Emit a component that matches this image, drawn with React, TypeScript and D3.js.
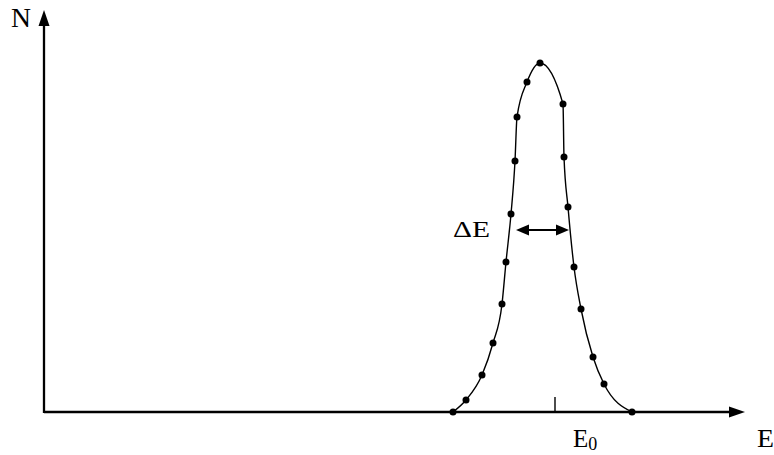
import * as d3 from 'd3';
import React from 'react';

// energy (arbitrary units) and counts
const energy = [409, 422, 438, 449, 458, 462, 467, 471, 473, 483, 496, 519, 520, 524, 530, 537, 549, 560, 588];
const counts = [0, 12, 37, 69, 108, 150, 198, 251, 295, 330, 349, 308, 255, 205, 145, 103, 55, 28, 0];
const peakE = 511;
const fwhm = [472, 525];
const fwhmLevel = 182;

const App = () => {
  const width = 774;
  const height = 455;
  const font = '"Liberation Serif", "DejaVu Serif", serif';

  const x = d3.scaleLinear().domain([0, 700]).range([44, 744]);
  const y = d3.scaleLinear().domain([0, 350]).range([412, 62]);

  const points = energy.map((e, i) => ({ e, n: counts[i] }));
  const line = d3
    .line<{ e: number; n: number }>()
    .x(d => x(d.e))
    .y(d => y(d.n))
    .curve(d3.curveMonotoneX);

  const x0 = x(0);
  const y0 = y(0);
  const xEnd = 745;
  const yTop = 10;

  return (
    <svg width={width} height={height} style={{ position: 'absolute', left: 0, top: 0, background: '#fff' }}>
      {/* axes */}
      <line x1={x0} y1={y0} x2={xEnd - 12} y2={y0} stroke="#000" strokeWidth={2.3} />
      <path d={`M${xEnd},${y0} L${xEnd - 16},${y0 - 5.5} L${xEnd - 16},${y0 + 5.5} Z`} fill="#000" />
      <line x1={x0} y1={y0 + 1} x2={x0} y2={yTop + 12} stroke="#000" strokeWidth={2.3} />
      <path d={`M${x0},${yTop} L${x0 - 5.5},${yTop + 16} L${x0 + 5.5},${yTop + 16} Z`} fill="#000" />

      {/* E0 tick */}
      <line x1={x(peakE)} y1={y0} x2={x(peakE)} y2={y0 - 15} stroke="#000" strokeWidth={1.4} />

      {/* curve and dots */}
      <path d={line(points) ?? ''} fill="none" stroke="#000" strokeWidth={1.4} />
      {points.map((d, i) => (
        <circle key={i} cx={x(d.e)} cy={y(d.n)} r={3.5} fill="#000" />
      ))}

      {/* FWHM arrow */}
      <line x1={x(fwhm[0]) + 8} y1={y(fwhmLevel)} x2={x(fwhm[1]) - 8} y2={y(fwhmLevel)} stroke="#000" strokeWidth={2.2} />
      <path
        d={`M${x(fwhm[0])},${y(fwhmLevel)} L${x(fwhm[0]) + 13},${y(fwhmLevel) - 5.5} L${x(fwhm[0]) + 13},${y(fwhmLevel) + 5.5} Z`}
        fill="#000"
      />
      <path
        d={`M${x(fwhm[1])},${y(fwhmLevel)} L${x(fwhm[1]) - 13},${y(fwhmLevel) - 5.5} L${x(fwhm[1]) - 13},${y(fwhmLevel) + 5.5} Z`}
        fill="#000"
      />

      {/* labels */}
      <text x={11} y={27} fontFamily={font} fontSize={27} fill="#000" textLength={20} lengthAdjust="spacingAndGlyphs">N</text>
      <text x={757} y={447} fontFamily={font} fontSize={25} fill="#000" textLength={17} lengthAdjust="spacingAndGlyphs">E</text>
      <text x={573} y={447} fontFamily={font} fontSize={25} fill="#000">
        E<tspan fontSize={18} dy={3}>0</tspan>
      </text>
      <text x={453} y={237} fontFamily={font} fontSize={24} fill="#000" textLength={37} lengthAdjust="spacingAndGlyphs">ΔE</text>
    </svg>
  );
};

export default App;
